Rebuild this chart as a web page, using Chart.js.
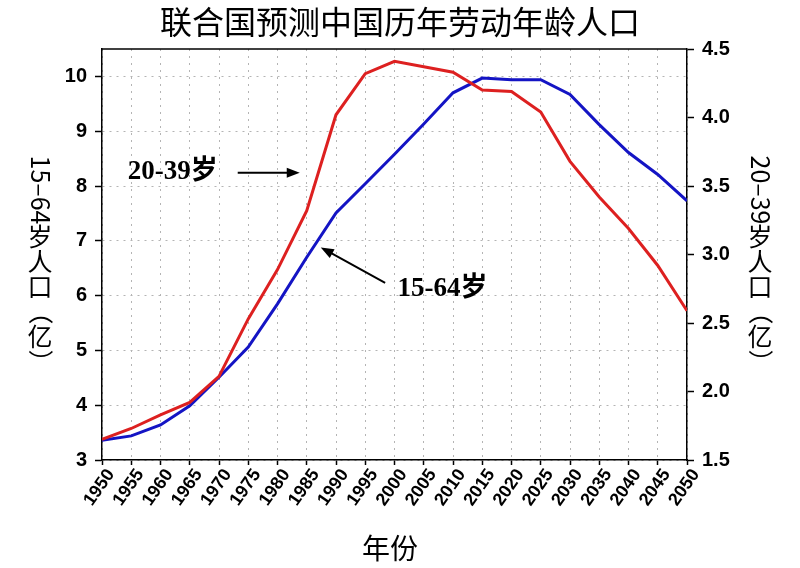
<!DOCTYPE html>
<html>
<head>
<meta charset="utf-8">
<script src="https://cdn.jsdelivr.net/npm/chart.js@4"></script>
<style>
  html, body { margin: 0; padding: 0; background: #fff; }
  #wrap { width: 800px; height: 568px; position: relative; }
</style>
</head>
<body>
<div id="wrap"><canvas id="chart"></canvas></div>
<script>
// years on the x axis
const years = [1950, 1955, 1960, 1965, 1970, 1975, 1980, 1985, 1990, 1995, 2000,
               2005, 2010, 2015, 2020, 2025, 2030, 2035, 2040, 2045, 2050];
// 15-64岁人口 (亿), left axis
const pop1564 = [3.36, 3.44, 3.64, 3.99, 4.51, 5.06, 5.85, 6.70, 7.51, 8.04, 8.58,
                 9.13, 9.70, 9.97, 9.94, 9.94, 9.67, 9.12, 8.61, 8.21, 7.73];
// 20-39岁人口 (亿), right axis
const pop2039 = [1.65, 1.73, 1.83, 1.92, 2.11, 2.53, 2.89, 3.32, 4.02, 4.32, 4.41,
                 4.37, 4.33, 4.20, 4.19, 4.04, 3.68, 3.42, 3.19, 2.92, 2.59];

const leftTicks = [3, 4, 5, 6, 7, 8, 9, 10];
const rightTicks = [1.5, 2.0, 2.5, 3.0, 3.5, 4.0, 4.5];

const titleText = "联合国预测中国历年劳动年龄人口";
const xTitle = "年份";
const label1564 = "15-64岁";
const label2039 = "20-39岁";

const CJK = '"Noto Sans CJK SC", "Noto Sans", sans-serif';
const tickFont = { family: '"Liberation Sans", Arial, sans-serif', size: 20, weight: 'bold' };

// vertical axis title: digits turned, CJK upright, brackets turned
function drawVertical(ctx, parts, cx, cy, size) {
  ctx.font = size + "px " + CJK;
  let total = 0;
  parts.forEach(p => { total += p.rot ? ctx.measureText(p.t).width : size * p.t.length; });
  let y = cy - total / 2;
  parts.forEach(p => {
    if (p.rot) {
      ctx.save();
      ctx.translate(cx, y);
      ctx.rotate(Math.PI / 2);
      ctx.textAlign = "left";
      ctx.textBaseline = "middle";
      ctx.fillText(p.t, 0, 0);
      ctx.restore();
      y += ctx.measureText(p.t).width;
    } else {
      for (const ch of p.t) {
        ctx.textAlign = "center";
        ctx.textBaseline = "middle";
        ctx.fillText(ch, cx, y + size / 2);
        y += size;
      }
    }
  });
}

function arrow(ctx, x1, y1, x2, y2) {
  const a = Math.atan2(y2 - y1, x2 - x1);
  const len = 13, w = 5;
  ctx.beginPath();
  ctx.moveTo(x1, y1);
  ctx.lineTo(x2 - Math.cos(a) * len * 0.8, y2 - Math.sin(a) * len * 0.8);
  ctx.stroke();
  ctx.beginPath();
  ctx.moveTo(x2, y2);
  ctx.lineTo(x2 - Math.cos(a) * len + Math.sin(a) * w, y2 - Math.sin(a) * len - Math.cos(a) * w);
  ctx.lineTo(x2 - Math.cos(a) * len - Math.sin(a) * w, y2 - Math.sin(a) * len + Math.cos(a) * w);
  ctx.closePath();
  ctx.fill();
}

const decorations = {
  id: "decorations",
  afterDraw(chart) {
    const { ctx, chartArea, scales } = chart;
    const x = scales.x, yl = scales.y;
    ctx.save();
    ctx.fillStyle = "#000";
    ctx.strokeStyle = "#000";

    // top frame line
    ctx.lineWidth = 1.5;
    ctx.beginPath();
    ctx.moveTo(chartArea.left, chartArea.top);
    ctx.lineTo(chartArea.right, chartArea.top);
    ctx.stroke();

    // chart title
    ctx.font = "32px " + CJK;
    ctx.textAlign = "center";
    ctx.textBaseline = "middle";
    ctx.fillText(titleText, 400, 22);

    // x title
    ctx.font = "28px " + CJK;
    ctx.fillText(xTitle, 390, 548);

    // axis titles
    drawVertical(ctx, [{ t: "15–64", rot: true }, { t: "岁人口", rot: false },
      { t: "（", rot: true }, { t: "亿", rot: false }, { t: "）", rot: true }], 40, 265, 25);
    drawVertical(ctx, [{ t: "20–39", rot: true }, { t: "岁人口", rot: false },
      { t: "（", rot: true }, { t: "亿", rot: false }, { t: "）", rot: true }], 760, 265, 25);

    // annotations
    ctx.font = 'bold 27px "Liberation Serif", "Times New Roman", ' + CJK;
    ctx.textAlign = "left";
    ctx.textBaseline = "middle";
    ctx.fillText(label2039, x.getPixelForValue(1954.4), yl.getPixelForValue(8.26));
    ctx.fillText(label1564, x.getPixelForValue(2000.5), yl.getPixelForValue(6.12));

    ctx.lineWidth = 2;
    arrow(ctx, x.getPixelForValue(1973.2), yl.getPixelForValue(8.24),
               x.getPixelForValue(1983.8), yl.getPixelForValue(8.24));
    arrow(ctx, x.getPixelForValue(1998.4), yl.getPixelForValue(6.23),
               x.getPixelForValue(1987.4), yl.getPixelForValue(6.88));
    ctx.restore();
  }
};

const gridDots = { color: "#b4b4b4", lineWidth: 1, tickColor: "#000", tickWidth: 1.5, tickBorderDash: [] };

new Chart(document.getElementById("chart"), {
  type: "line",
  data: {
    datasets: [
      {
        label: "20-39岁",
        data: years.map((yr, i) => ({ x: yr, y: pop2039[i] })),
        yAxisID: "y1",
        borderColor: "#dd2020",
        borderWidth: 3,
        pointRadius: 0,
        tension: 0
      },
      {
        label: "15-64岁",
        data: years.map((yr, i) => ({ x: yr, y: pop1564[i] })),
        yAxisID: "y",
        borderColor: "#1414c4",
        borderWidth: 3,
        pointRadius: 0,
        tension: 0
      }
    ]
  },
  options: {
    responsive: true,
    maintainAspectRatio: false,
    animation: false,
    layout: { padding: { top: 49, bottom: 48, left: 0, right: 0 } },
    plugins: { legend: { display: false }, tooltip: { enabled: false }, title: { display: false } },
    scales: {
      x: {
        type: "linear",
        min: 1950,
        max: 2050,
        afterBuildTicks: s => { s.ticks = years.map(v => ({ value: v })); },
        afterFit: s => { s.height = 60; },
        ticks: {
          callback: v => String(v),
          color: "#000",
          font: { family: '"Liberation Sans", Arial, sans-serif', size: 18, weight: 'bold' },
          minRotation: 55,
          maxRotation: 55,
          autoSkip: false,
          labelOffset: 9,
          padding: 0
        },
        grid: Object.assign({ tickLength: 5 }, gridDots),
        border: { color: "#000", width: 1.5, dash: [2, 5] }
      },
      y: {
        position: "left",
        min: 3,
        max: 10.5,
        afterBuildTicks: s => { s.ticks = leftTicks.map(v => ({ value: v })); },
        afterFit: s => { s.width = 102; },
        ticks: { color: "#000", font: tickFont, padding: 8 },
        grid: Object.assign({ tickLength: 7 }, gridDots),
        border: { color: "#000", width: 1.5, dash: [2, 5] }
      },
      y1: {
        position: "right",
        min: 1.5,
        max: 4.5,
        afterBuildTicks: s => { s.ticks = rightTicks.map(v => ({ value: v })); },
        afterFit: s => { s.width = 113; },
        ticks: { color: "#000", font: tickFont, padding: 8, callback: v => v.toFixed(1) },
        grid: { drawOnChartArea: false, tickLength: 7, tickColor: "#000", tickWidth: 1.5 },
        border: { color: "#000", width: 1.5 }
      }
    }
  },
  plugins: [decorations]
});
</script>
</body>
</html>
